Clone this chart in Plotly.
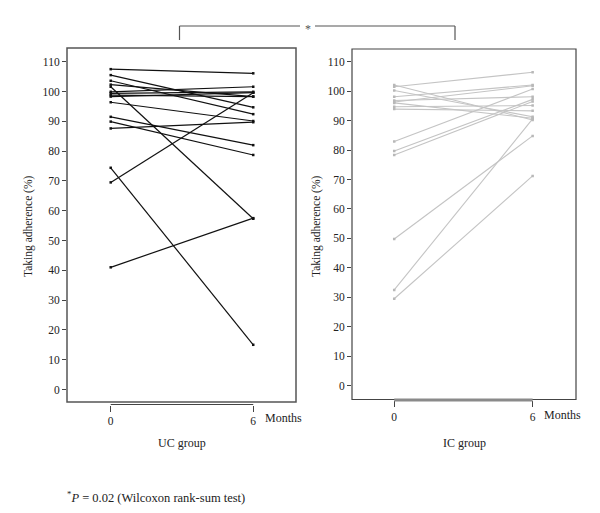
import plotly.graph_objects as go

# Tempi di misura (mesi)
months = [0, 6]

# UC group: aderenza (%) a 0 e 6 mesi, un soggetto per posizione
uc_baseline = [107.5, 105.5, 103.6, 102.3, 101.6, 99.9, 99.4, 98.8, 98.3, 96.4, 91.5, 89.9, 87.6, 74.4, 69.5, 41.0]
uc_month6 = [106.1, 94.7, 92.4, 98.3, 57.3, 101.6, 99.9, 98.3, 99.6, 90.1, 82.0, 78.7, 89.7, 15.0, 99.6, 57.5]

# IC group
ic_baseline = [101.5, 102.1, 100.2, 98.1, 96.8, 96.3, 94.7, 93.9, 96.0, 82.9, 79.7, 78.3, 49.8, 32.5, 29.5]
ic_month6 = [106.4, 90.2, 91.3, 102.1, 98.1, 101.8, 95.1, 93.3, 90.8, 100.7, 97.2, 96.5, 84.8, 90.6, 71.2]

y_ticks = list(range(0, 111, 10))
group_labels = ["UC group", "IC group"]
y_title = "Taking adherence (%)"

FONT = "Liberation Serif"
W, H = 600, 513


def px(x):
    return x / W


def py(y):
    return 1 - y / H


def paired(base, after):
    xs, ys = [], []
    for b, a in zip(base, after):
        xs += [months[0], months[1], None]
        ys += [b, a, None]
    return xs, ys


fig = go.Figure()

x_uc, y_uc = paired(uc_baseline, uc_month6)
fig.add_trace(go.Scatter(
    x=x_uc, y=y_uc, mode="lines+markers", xaxis="x", yaxis="y",
    line=dict(color="#111111", width=1.2),
    marker=dict(symbol="square", size=2.5, color="#111111"),
    showlegend=False, hoverinfo="skip"
))

x_ic, y_ic = paired(ic_baseline, ic_month6)
fig.add_trace(go.Scatter(
    x=x_ic, y=y_ic, mode="lines+markers", xaxis="x2", yaxis="y2",
    line=dict(color="#c4c4c4", width=1.1),
    marker=dict(symbol="square", size=2.5, color="#b8b8b8"),
    showlegend=False, hoverinfo="skip"
))

tickfont = dict(family=FONT, size=11.5, color="#222")

# Assi: pannello sinistro (UC) e destro (IC)
left_dom = [px(67), px(296)]
right_dom = [px(352), px(576)]
y_dom_l = [py(402), py(48)]
y_dom_r = [py(399.5), py(49)]
xpos_l = py(404.5)
xpos_r = py(400)

common_x = dict(tickvals=months, ticks="outside", ticklen=6, tickwidth=1, tickcolor="#444",
                showline=False, showgrid=False, zeroline=False, anchor="free", tickfont=tickfont)
common_y = dict(tickvals=y_ticks, ticks="outside", ticklen=4, tickwidth=1, tickcolor="#444",
                showline=False, showgrid=False, zeroline=False, tickfont=tickfont)

fig.update_layout(
    xaxis=dict(domain=left_dom, range=[-1.84, 7.80], position=xpos_l, **common_x),
    yaxis=dict(domain=y_dom_l, range=[-4.2, 114.6], anchor="x", **common_y),
    xaxis2=dict(domain=right_dom, range=[-1.83, 7.88], position=xpos_r, **common_x),
    yaxis2=dict(domain=y_dom_r, range=[-4.7, 114.3], anchor="x2", **common_y),
)

shapes = [
    # cornici dei pannelli
    dict(type="rect", xref="x domain", yref="y domain", x0=0, x1=1, y0=0, y1=1,
         line=dict(color="#555", width=1.5)),
    dict(type="rect", xref="x2 domain", yref="y2 domain", x0=0, x1=1, y0=0, y1=1,
         line=dict(color="#444", width=1.2)),
    # linee asse x (0-6 mesi)
    dict(type="line", xref="x", yref="paper", x0=months[0], x1=months[-1], y0=xpos_l, y1=xpos_l,
         line=dict(color="#444", width=1.2)),
    dict(type="line", xref="x2", yref="paper", x0=months[0], x1=months[-1], y0=xpos_r, y1=xpos_r,
         line=dict(color="#8a8a8a", width=3)),
    # parentesi di significativita'
    dict(type="line", xref="paper", yref="paper", x0=px(179.5), x1=px(300), y0=py(26), y1=py(26),
         line=dict(color="#555", width=1.2)),
    dict(type="line", xref="paper", yref="paper", x0=px(315), x1=px(455), y0=py(26), y1=py(26),
         line=dict(color="#555", width=1.2)),
    dict(type="line", xref="paper", yref="paper", x0=px(179.5), x1=px(179.5), y0=py(26), y1=py(40),
         line=dict(color="#555", width=1.2)),
    dict(type="line", xref="paper", yref="paper", x0=px(455), x1=px(455), y0=py(26), y1=py(40),
         line=dict(color="#555", width=1.2)),
]

txt = dict(family=FONT, size=12, color="#222")
mid = dict(xanchor="center", yanchor="middle", showarrow=False)
annotations = [
    dict(text="*", xref="paper", yref="paper", x=px(307.5), y=py(29),
         font=dict(family=FONT, size=12, color="#555"), **mid),
    dict(text=y_title, xref="paper", yref="paper", x=px(28), y=py(226), textangle=-90,
         font=dict(family=FONT, size=11.5, color="#222"), **mid),
    dict(text=y_title, xref="paper", yref="paper", x=px(316), y=py(226), textangle=-90,
         font=dict(family=FONT, size=11.5, color="#222"), **mid),
    dict(text="Months", xref="x", yref="paper", x=months[-1], xanchor="left", xshift=10,
         yanchor="middle", y=py(418), showarrow=False, font=txt),
    dict(text="Months", xref="x2", yref="paper", x=months[-1], xanchor="left", xshift=9,
         yanchor="middle", y=py(415), showarrow=False, font=txt),
    dict(text=group_labels[0], xref="paper", yref="paper", x=sum(left_dom) / 2, y=py(443),
         font=txt, **mid),
    dict(text=group_labels[1], xref="paper", yref="paper", x=sum(right_dom) / 2, y=py(443),
         font=txt, **mid),
    dict(text="<sup>*</sup><i>P</i> = 0.02 (Wilcoxon rank-sum test)", xref="paper", yref="paper",
         x=px(65), xanchor="left", yanchor="middle", y=py(497), showarrow=False,
         font=dict(family=FONT, size=12.5, color="#222")),
]

fig.update_layout(
    width=W, height=H,
    margin=dict(l=0, r=0, t=0, b=0),
    plot_bgcolor="white", paper_bgcolor="white",
    shapes=shapes, annotations=annotations,
    font=dict(family=FONT),
)

# niente margine del body: la figura parte dall'angolo della pagina
fig.write_html("out.html", config={"displayModeBar": False},
               post_script="document.body.style.margin='0';")
